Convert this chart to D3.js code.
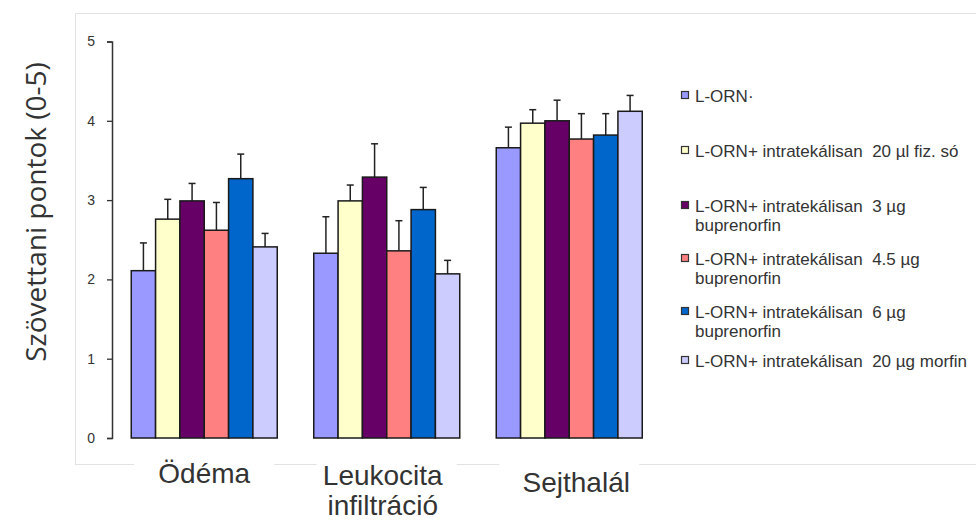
<!DOCTYPE html>
<html>
<head>
<meta charset="utf-8">
<script src="https://cdn.jsdelivr.net/npm/d3@7"></script>
<style>
  body { margin: 0; background: #fff; }
  svg { display: block; font-family: Arial, "Liberation Sans", sans-serif; }
  .legend text { white-space: pre; }
</style>
</head>
<body>
<div id="chart"></div>
<script>
const categories = ['Ödéma', 'Leukocita infiltráció', 'Sejthalál'];
const seriesNames = [
  'L-ORN·',
  'L-ORN+ intratekálisan  20 µl fiz. só',
  'L-ORN+ intratekálisan  3 µg buprenorfin',
  'L-ORN+ intratekálisan  4.5 µg buprenorfin',
  'L-ORN+ intratekálisan  6 µg buprenorfin',
  'L-ORN+ intratekálisan  20 µg morfin'
];
const seriesColors = ['#9999ff', '#ffffcc', '#660066', '#ff8080', '#0066cc', '#ccccff'];
// means per series, one value per category
const means = [
  [2.11, 2.33, 3.66],
  [2.76, 2.99, 3.97],
  [2.99, 3.29, 4.00],
  [2.62, 2.36, 3.77],
  [3.27, 2.88, 3.82],
  [2.41, 2.07, 4.12]
];
const errors = [
  [0.35, 0.46, 0.26],
  [0.25, 0.20, 0.17],
  [0.22, 0.42, 0.26],
  [0.35, 0.38, 0.32],
  [0.31, 0.28, 0.27],
  [0.17, 0.17, 0.20]
];
const yTicks = [0, 1, 2, 3, 4, 5];

const width = 976, height = 521;
const svg = d3.select('#chart').append('svg')
  .attr('width', width).attr('height', height);

// plot frame
svg.append('rect')
  .attr('x', 75.5).attr('y', 13.5).attr('width', 920).attr('height', 451)
  .attr('fill', 'none').attr('stroke', '#e2e2e2');

const x0 = d3.scaleBand().domain(d3.range(categories.length))
  .range([113, 660.5]).paddingInner(0.2).paddingOuter(0.1);
const x1 = d3.scaleBand().domain(d3.range(seriesNames.length))
  .range([0, x0.bandwidth()]);
const y = d3.scaleLinear().domain([0, 5]).range([438, 41.5]);

const data = [];
means.forEach((row, s) => row.forEach((v, c) => data.push({s, c, v, e: errors[s][c]})));

const bars = svg.append('g');
bars.selectAll('line.err').data(data).join('line')
  .attr('class', 'err')
  .attr('x1', d => x0(d.c) + x1(d.s) + x1.bandwidth() / 2)
  .attr('x2', d => x0(d.c) + x1(d.s) + x1.bandwidth() / 2)
  .attr('y1', d => y(d.v)).attr('y2', d => y(d.v + d.e))
  .attr('stroke', '#222').attr('stroke-width', 1.5);
bars.selectAll('line.cap').data(data).join('line')
  .attr('class', 'cap')
  .attr('x1', d => x0(d.c) + x1(d.s) + x1.bandwidth() / 2 - 3.5)
  .attr('x2', d => x0(d.c) + x1(d.s) + x1.bandwidth() / 2 + 3.5)
  .attr('y1', d => y(d.v + d.e)).attr('y2', d => y(d.v + d.e))
  .attr('stroke', '#222').attr('stroke-width', 1.5);
bars.selectAll('rect').data(data).join('rect')
  .attr('x', d => x0(d.c) + x1(d.s))
  .attr('y', d => y(d.v))
  .attr('width', x1.bandwidth())
  .attr('height', d => y(0) - y(d.v))
  .attr('fill', d => seriesColors[d.s])
  .attr('stroke', '#1a1a1a').attr('stroke-width', 1.5);

// y axis
const yAxis = svg.append('g')
  .attr('transform', 'translate(112,0)')
  .call(d3.axisLeft(y).tickValues(yTicks).tickSize(5).tickPadding(12).tickFormat(d3.format('d')));
yAxis.select('.domain').attr('stroke', '#333').attr('stroke-width', 1.5);
yAxis.selectAll('.tick line').attr('stroke', '#333').attr('stroke-width', 1.3);
yAxis.selectAll('.tick text').attr('font-size', 14).attr('fill', '#333')
  .attr('font-family', 'Arial, "Liberation Sans", sans-serif');

// y title
svg.append('text')
  .attr('transform', 'translate(46,212) rotate(-90)')
  .attr('text-anchor', 'middle')
  .attr('font-family', '"Open Sans", "Noto Sans", sans-serif')
  .attr('font-size', 28).attr('fill', '#333')
  .text('Szövettani pontok (0-5)');

// category labels with white backing boxes over the frame
const catLabels = [
  {lines: ['Ödéma'], y: 483, dx: 0},
  {lines: ['Leukocita', 'infiltráció'], y: 485, dx: -4},
  {lines: ['Sejthalál'], y: 492, dx: 7}
];
catLabels.forEach((lab, i) => {
  const cx = x0(i) + x0.bandwidth() / 2;
  svg.append('rect')
    .attr('x', cx - 70).attr('y', 452).attr('width', 140).attr('height', 69)
    .attr('fill', '#fff');
  lab.lines.forEach((t, k) => {
    svg.append('text')
      .attr('x', cx + lab.dx).attr('y', lab.y + k * 30)
      .attr('text-anchor', 'middle')
      .attr('font-size', 28).attr('fill', '#333')
      .text(t);
  });
});

// legend
const legendRows = [102, 157, 212, 265, 318, 367];
const legend = svg.append('g').attr('class', 'legend');
seriesNames.forEach((name, i) => {
  const g = legend.append('g').attr('transform', `translate(681,${legendRows[i]})`);
  g.append('rect')
    .attr('x', 0.5).attr('y', -10.5).attr('width', 7).attr('height', 7)
    .attr('fill', seriesColors[i]).attr('stroke', '#333').attr('stroke-width', 1.2);
  const words = name.split(' buprenorfin');
  const txt = g.append('text').attr('font-size', 17).attr('fill', '#333');
  txt.append('tspan').attr('x', 14).attr('y', 0).text(words[0]);
  if (words.length > 1) {
    txt.append('tspan').attr('x', 14).attr('y', 18.5).text('buprenorfin');
  }
});
</script>
</body>
</html>
